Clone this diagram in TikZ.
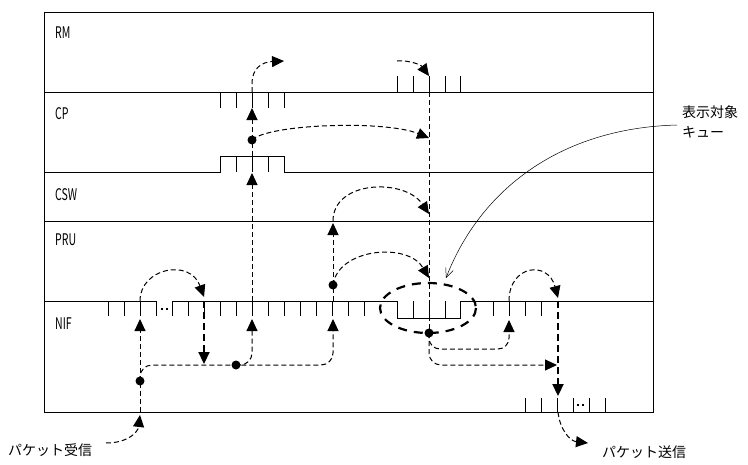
\documentclass[tikz,border=0pt]{standalone}
\usepackage{fontspec}
\setmainfont{Noto Sans CJK JP}
\usetikzlibrary{arrows.meta}
\newcommand\narrowtxt[1]{\scalebox{0.66}[1]{#1}}
\begin{document}
\begin{tikzpicture}[x=1pt,y=-1pt,
  frame/.style={line width=0.9pt},
  tick/.style={line width=0.9pt},
  dl/.style={line width=1pt,dash pattern=on 5pt off 3pt},
  thickdl/.style={line width=2.2pt,dash pattern=on 7pt off 4pt},
  elldash/.style={line width=2.2pt,dash pattern=on 9pt off 7pt},
  tip/.style={-{Triangle[length=12pt,width=11pt]}},
  dotn/.style={circle,fill,inner sep=0pt,minimum size=9pt},
  lat/.style={anchor=west,inner sep=0pt,font=\fontsize{16}{17}\selectfont},
  jp/.style={anchor=west,inner sep=0pt,font=\fontsize{14}{15}\selectfont},
  callout/.style={line width=0.5pt,-{Straight Barb[length=9pt,width=8pt,line width=0.5pt]}}]
\useasboundingbox (0,0) rectangle (748,464);
% frame and bands
\draw[frame] (44,12) rectangle (653,412);
\draw[frame] (44,92) -- (653,92);
\draw[frame] (44,172) -- (220,172) -- (220,156) -- (284,156) -- (284,172) -- (653,172);
\draw[frame] (44,221) -- (653,221);
\draw[frame] (44,301) -- (156,301);
\draw[frame] (172,301) -- (397,301) -- (397,318) -- (460,318) -- (460,301) -- (653,301);
% ticks
\foreach \x in {397,413,429,445,460} \draw[tick] (\x,76) -- (\x,92);
\foreach \x in {220,236,252,268,284} \draw[tick] (\x,92) -- (\x,108);
\foreach \x in {236,252,268} \draw[tick] (\x,156) -- (\x,172);
\foreach \x in {108,124,140,156,172,188,204,220,236,252,268,284,300,316,332,348,364} \draw[tick] (\x,301) -- (\x,316);
\foreach \x in {413,429,445} \draw[tick] (\x,301) -- (\x,318);
\foreach \x in {493,509,525,541} \draw[tick] (\x,301) -- (\x,316);
\foreach \x in {525,541,557,573,589,605} \draw[tick] (\x,398) -- (\x,412);
\fill (161,307.5) rectangle (163,309.5);
\fill (166,307.5) rectangle (168,309.5);
\fill (577,404) rectangle (579,406);
\fill (582,404) rectangle (584,406);
% labels
\node[lat] (lRM) at (55,33) {\narrowtxt{RM}};
\node[lat] (lCP) at (55,114) {\narrowtxt{CP}};
\node[lat] (lCSW) at (55,195) {\narrowtxt{CSW}};
\node[lat] (lPRU) at (55,240) {\narrowtxt{PRU}};
\node[lat] (lNIF) at (55,324) {\narrowtxt{NIF}};
\node[jp] (lt1) at (682,112) {表示対象};
\node[jp] (lt2) at (682,132) {キュー};
\node[jp] (lrecv) at (8,450) {パケット受信};
\node[jp] (lsend) at (602,452) {パケット送信};
% dots
\node[dotn] (d1) at (140,381) {};
\node[dotn] (d2) at (236,365) {};
\node[dotn] (d3) at (252,140) {};
\node[dotn] (d4) at (333,285) {};
\node[dotn] (d5) at (429,333) {};
% coordinates
\coordinate (rcvS) at (106,443);
\coordinate (rcvT) at (140,415);
\coordinate (bb140) at (140,412);
\coordinate (a140) at (140,319);
\coordinate (n140) at (140,301);
\coordinate (t204) at (204,297);
\coordinate (n204) at (204,301);
\coordinate (b204) at (204,364);
\coordinate (a333) at (333,319);
\coordinate (a252) at (252,319);
\coordinate (n252) at (252,301);
\coordinate (c252) at (252,173);
\coordinate (q252) at (252,156);
\coordinate (p252) at (252,108);
\coordinate (r252) at (252,92);
\coordinate (rmT) at (284,61);
\coordinate (cpT) at (429,138);
\coordinate (rmS) at (397,61);
\coordinate (rmQ) at (429,76);
\coordinate (v429) at (429,92);
\coordinate (n333) at (333,301);
\coordinate (csw333) at (333,223);
\coordinate (l333) at (333,221);
\coordinate (cswT) at (429,214);
\coordinate (pruT) at (429,278);
\coordinate (a509) at (509,320);
\coordinate (n509) at (509,301);
\coordinate (t558) at (558,298);
\coordinate (n558) at (558,301);
\coordinate (b558) at (558,396);
\coordinate (h558) at (557,365);
\coordinate (bb558) at (558,412);
\coordinate (sndT) at (588,443);
\coordinate (coS) at (677,125);
\coordinate (coT) at (446,278);
% connectors: receive side
\draw[dl,tip] (rcvS) .. controls (128,443) and (138,432) .. (rcvT);
\draw[dl] (bb140) -- (d1.center);
\draw[dl,tip] (d1.center) -- (a140);
\draw[dl,tip] (n140) .. controls (140,268) and (190,258) .. (t204);
\draw[thickdl,tip] (n204) -- (b204);
\draw[dl,tip,rounded corners=12pt] (d1.center) -- (140,365) -- (333,365) -- (a333);
\draw[dl,tip,rounded corners=12pt] (d2.center) -| (a252);
\draw[dl,tip] (n252) -- (c252);
\draw[dl] (q252) -- (d3.center);
\draw[dl,tip] (d3.center) -- (p252);
\draw[dl,tip] (r252) -- (252,84) .. controls (252,68) and (262,62) .. (rmT);
\draw[dl,tip] (d3.center) .. controls (268,124) and (385,120) .. (cpT);
\draw[dl,tip] (rmS) .. controls (410,60) and (421,65) .. (rmQ);
\draw[dl] (v429) -- (d5.center);
\draw[dl] (n333) -- (d4.center);
\draw[dl,tip] (d4.center) -- (csw333);
\draw[dl,tip] (l333) .. controls (333,180) and (405,178) .. (cswT);
\draw[dl,tip] (d4.center) .. controls (338,248) and (408,242) .. (pruT);
% ellipse around queue
\draw[elldash] (428,308) ellipse [x radius=48, y radius=25];
% send side
\draw[dl,tip,rounded corners=11pt] (d5.center) -- (429,349) -- (509,349) -- (a509);
\draw[dl,tip,rounded corners=12pt] (d5.center) -- (429,365) -- (h558);
\draw[dl,tip] (n509) .. controls (509,265) and (548,260) .. (t558);
\draw[thickdl,tip] (n558) -- (b558);
\draw[dl,tip] (bb558) .. controls (560,430) and (570,441) .. (sndT);
% callout
\draw[callout] (coS) .. controls (560,128) and (480,190) .. (coT);
\end{tikzpicture}
\end{document}
